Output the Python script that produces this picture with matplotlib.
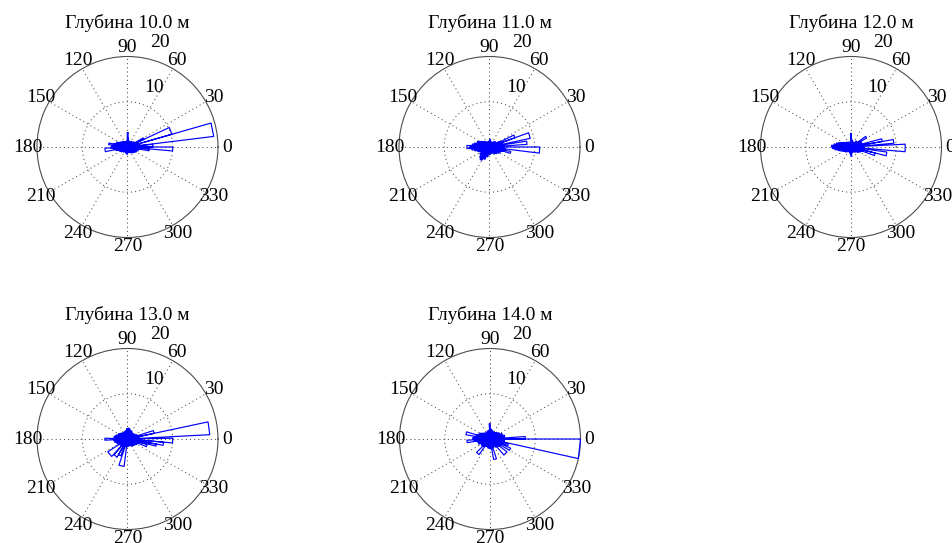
import numpy as np
import matplotlib
matplotlib.use('Agg')
import matplotlib.pyplot as plt

plt.rcParams['font.family'] = ['Liberation Serif', 'DejaVu Serif']

depths = [10.0, 11.0, 12.0, 13.0, 14.0]

# direction histograms: 72 bins of 5 deg, counted counter-clockwise from east
core_10 = [3.0, 2.6, 2.8, 2.2, 2.4, 1.9, 1.6, 1.8, 1.3, 1.5, 1.1, 1.4,
           1.2, 0.9, 1.3, 1.0, 1.6, 2.0, 1.4, 1.1, 0.9, 1.2, 1.0, 1.3,
           1.1, 1.5, 1.2, 1.7, 1.4, 1.9, 2.1, 2.6, 2.3, 3.1, 2.8, 3.4,
           3.6, 3.0, 2.7, 2.4, 2.0, 1.8, 1.5, 1.7, 1.3, 1.1, 1.4, 1.0,
           0.9, 1.2, 1.0, 1.4, 1.1, 1.6, 1.3, 1.0, 1.2, 0.9, 1.1, 1.4,
           1.2, 1.6, 1.3, 1.8, 1.5, 2.0, 2.2, 1.9, 2.5, 2.1, 2.7, 2.4]
core_11 = [2.8, 3.2, 2.5, 2.9, 2.1, 2.4, 1.8, 1.5, 1.7, 1.2, 1.4, 1.0,
           1.1, 0.8, 1.2, 0.9, 1.4, 1.7, 1.3, 1.0, 1.1, 0.8, 1.2, 1.0,
           1.3, 1.1, 1.6, 1.4, 1.9, 2.2, 2.5, 2.9, 2.7, 3.4, 3.8, 4.2,
           4.4, 3.9, 3.3, 2.8, 2.5, 2.2, 2.0, 2.6, 2.3, 3.1, 2.7, 3.3,
           2.4, 2.9, 1.8, 2.2, 1.5, 1.7, 1.3, 1.6, 1.2, 1.4, 1.1, 1.5,
           1.4, 1.8, 1.6, 2.1, 1.9, 2.4, 2.6, 2.3, 3.0, 2.7, 3.4, 3.1]
core_12 = [2.6, 2.3, 2.8, 2.1, 2.5, 1.8, 2.0, 1.6, 1.4, 1.7, 1.2, 1.0,
           1.1, 0.9, 1.3, 1.0, 1.5, 1.8, 1.2, 0.9, 1.1, 0.8, 1.0, 1.2,
           1.0, 1.3, 1.1, 1.5, 1.3, 1.7, 2.0, 2.4, 2.9, 3.3, 3.8, 4.3,
           4.1, 3.6, 3.0, 2.6, 2.2, 1.9, 1.7, 1.4, 1.6, 1.2, 1.3, 1.0,
           1.1, 0.9, 1.2, 1.0, 1.4, 1.6, 2.1, 1.3, 1.0, 1.2, 0.9, 1.1,
           1.3, 1.1, 1.5, 1.4, 1.8, 2.0, 2.3, 2.0, 2.6, 2.2, 2.9, 2.5]
core_13 = [2.5, 2.2, 2.7, 2.0, 2.3, 1.8, 1.9, 1.5, 1.7, 1.4, 1.6, 1.8,
           1.5, 2.0, 1.7, 2.2, 2.4, 2.1, 2.3, 1.9, 1.6, 1.8, 1.4, 1.6,
           1.3, 1.7, 1.5, 1.9, 1.6, 2.1, 2.3, 2.0, 2.6, 2.8, 3.0, 2.7,
           3.1, 2.6, 2.9, 2.3, 2.5, 2.0, 2.2, 1.8, 2.0, 1.6, 1.9, 1.5,
           1.7, 1.4, 1.6, 1.3, 1.5, 1.7, 1.4, 1.6, 1.2, 1.5, 1.3, 1.7,
           1.5, 1.9, 1.6, 2.0, 1.8, 2.2, 2.4, 2.1, 2.6, 2.3, 2.8, 2.6]
core_14 = [3.1, 2.7, 3.3, 2.6, 2.9, 2.2, 2.4, 1.9, 2.1, 1.6, 1.8, 1.5,
           1.7, 1.4, 1.9, 1.6, 2.1, 2.3, 2.0, 1.7, 1.9, 1.5, 1.7, 1.4,
           1.6, 1.3, 1.8, 1.5, 2.0, 2.3, 2.6, 2.4, 3.0, 2.7, 3.4, 3.8,
           3.5, 3.2, 2.8, 2.5, 2.7, 2.2, 2.0, 2.3, 1.8, 2.1, 1.7, 1.9,
           1.6, 1.8, 1.5, 2.0, 1.7, 2.1, 1.9, 2.2, 1.7, 2.0, 1.6, 1.9,
           1.8, 2.2, 1.9, 2.4, 2.1, 2.6, 2.8, 2.4, 3.0, 2.6, 3.2, 2.9]

# long petals: (start deg, end deg, count)
wedges_10 = [(7, 16, 19.2), (16, 25, 10.2), (-5, 0, 10.0), (0, 6, 5.6),
             (-10, -5, 4.8), (25, 30, 4.0), (183, 192, 5.0), (168, 173, 4.2),
             (87, 91, 3.2)]
wedges_11 = [(12, 20, 9.2), (-7, 0, 11.1), (4, 9, 8.3), (20, 26, 6.0),
             (-17, -12, 4.8), (176, 184, 5.0), (232, 238, 3.4)]
wedges_12 = [(-5, 3, 12.0), (5, 10, 9.5), (-14, -8, 8.0), (10, 15, 7.0),
             (-20, -14, 5.5), (30, 36, 4.0), (88, 92, 3.0)]
wedges_13 = [(3, 12, 18.2), (-5, 1, 10.0), (-10, -5, 8.0), (-14, -10, 6.5),
             (12, 18, 6.0), (213, 228, 5.2), (230, 240, 4.6), (252, 263, 6.1),
             (240, 248, 4.0), (178, 183, 5.0), (-22, -16, 4.5)]
wedges_14 = [(-12.5, 0, 20.0), (0, 4, 7.8), (-49, -37, 4.7), (225, 235, 4.2),
             (-80, -72, 4.6), (163, 170, 5.4), (183, 189, 5.1), (89, 93, 3.4),
             (-30, -24, 5.0), (-20, -15, 4.2)]

cores = [core_10, core_11, core_12, core_13, core_14]
wedges = [wedges_10, wedges_11, wedges_12, wedges_13, wedges_14]

W, H = 953, 543
RPX = 90.5  # plot radius in pixels
centers = [(127.5, 147), (489.5, 147), (851, 147), (127.5, 439), (490, 439)]
RMAX = 20.0
FS = 14
dots = (0, (1, 3))


def rose_line(core, petals):
    # closed triangles 0 -> (lo, r) -> (hi, r) -> 0, like matlab rose
    edges = np.arange(len(core) + 1) * 360.0 / len(core)
    th, r = [], []
    for lo, hi, v in zip(edges[:-1], edges[1:], core):
        th += [0, lo, hi, 0]
        r += [0, v, v, 0]
    for lo, hi, v in petals:
        th += [0, lo, hi, 0]
        r += [0, v, v, 0]
    return np.deg2rad(th), np.array(r)


def xy_to_polar(x, y):
    return np.arctan2(y, x), np.hypot(x, y)


fig = plt.figure(figsize=(W / 100, H / 100), dpi=100)

for d, core, petals, (cx, cy) in zip(depths, cores, wedges, centers):
    ax = fig.add_axes([(cx - RPX) / W, 1 - (cy + RPX) / H, 2 * RPX / W, 2 * RPX / H],
                      projection='polar')
    ax.set_ylim(0, RMAX)
    ax.set_xticks([])
    ax.set_yticks([])
    ax.grid(False)
    ax.spines['polar'].set_color('0.3')
    ax.spines['polar'].set_linewidth(0.8)

    # dotted ring and spokes
    ring = np.linspace(0, 2 * np.pi, 361)
    ax.plot(ring, np.full_like(ring, 10.0), color='0.3', lw=0.75, ls=dots, zorder=1)
    for a in range(0, 360, 30):
        ax.plot([np.deg2rad(a)] * 2, [0, RMAX], color='0.3', lw=0.75, ls=dots, zorder=1)
        ax.text(np.deg2rad(a), 1.1 * RMAX, str(a), ha='center', va='center',
                fontsize=FS, clip_on=False)

    # radial tick labels
    for lab, (x, y) in [('10', (5.86, 13.15)), ('20', (7.1, 23.05))]:
        t, r = xy_to_polar(x, y)
        ax.text(t, r, lab, ha='center', va='center', fontsize=FS, clip_on=False)

    th, r = rose_line(core, petals)
    ax.plot(th, r, color='#0000ff', lw=0.85, zorder=3, clip_on=False)

    ax.text(np.pi / 2, 26.4, 'Глубина %.1f м' % d, ha='center', va='baseline',
            fontsize=FS, clip_on=False)

fig.savefig('out.png', dpi=100)
